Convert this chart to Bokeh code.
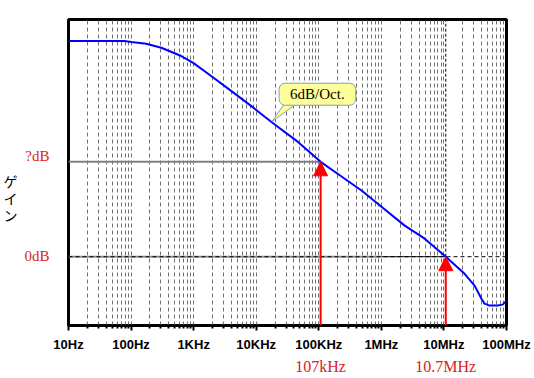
from bokeh.plotting import figure
from bokeh.models import Range1d, FixedTicker, Label, Arrow, NormalHead, LinearAxis, LogAxis
from bokeh.embed import file_html
from bokeh.resources import INLINE

# ---- data ----
freq_hz = [10, 78, 101, 175, 304, 634, 985, 1905, 3972, 8280, 13840, 20000, 46500,
           107000, 234000, 487000, 877000, 2.36e6, 4.93e6, 10.7e6, 21.4e6, 30.9e6,
           39.8e6, 44.6e6, 53.7e6, 72e6, 87e6, 100e6]
gain_db = [90.9, 90.9, 90.5, 89.8, 88.1, 84.6, 81.7, 76.2, 69.9, 63.6, 58.9, 55.6, 48.4,
           40.0, 33.7, 27.8, 22.3, 13.1, 7.6, 0.0, -7.2, -12.2,
           -17.7, -19.8, -20.6, -20.6, -20.2, -18.5]
tick_values = [10, 100, 1000, 1e4, 1e5, 1e6, 1e7, 1e8]
tick_labels = ["10Hz", "100Hz", "1KHz", "10KHz", "100KHz", "1MHz", "10MHz", "100MHz"]
minor_values = [m * d for d in [10, 100, 1000, 1e4, 1e5, 1e6, 1e7] for m in range(2, 10)]
marker_freqs = [107e3, 10.7e6]
marker_labels = ["107kHz", "10.7MHz"]
marker_gains = [40.0, 0.0]
level_labels = ["?dB", "0dB"]
y_title = "\u3000\n\u3000\n\u3000\nゲ\nイ\nン"
slope_text = "6dB/Oct."

Y0, Y1 = -29, 100
X0, X1 = 10, 1e8
RED = "#ff0000"
TXT_RED = "#d81e1e"

p = figure(width=534, height=378, x_axis_type="log", output_backend="svg",
           toolbar_location=None, x_range=Range1d(X0, X1), y_range=Range1d(Y0, Y1),
           y_axis_location=None, min_border_left=67, min_border_right=28,
           min_border_top=19, min_border_bottom=53)
p.background_fill_color = "white"
p.border_fill_color = "white"
p.outline_line_color = "black"
p.outline_line_width = 3

ticker = FixedTicker(ticks=tick_values, minor_ticks=minor_values)
p.xaxis.ticker = ticker
p.xgrid.ticker = ticker
p.xaxis.major_label_overrides = {float(v): t for v, t in zip(tick_values, tick_labels)}
p.xaxis.major_label_text_font = "Liberation Sans"
p.xaxis.major_label_text_font_style = "bold"
p.xaxis.major_label_text_font_size = "13px"
p.xaxis.major_label_text_color = "black"
p.xaxis.major_label_standoff = 6
p.xaxis.axis_line_color = "black"
p.xaxis.axis_line_width = 2
p.xaxis.major_tick_in = 0
p.xaxis.major_tick_out = 5
p.xaxis.minor_tick_in = 0
p.xaxis.minor_tick_out = 3
p.xaxis.major_tick_line_width = 2
p.xaxis.minor_tick_line_width = 2
p.xaxis.major_tick_line_color = "black"
p.xaxis.minor_tick_line_color = "black"

# second bottom axis carrying the red frequency markers
mark_axis = LogAxis(ticker=FixedTicker(ticks=marker_freqs, minor_ticks=[]),
                    major_label_overrides={float(v): t for v, t in zip(marker_freqs, marker_labels)},
                    axis_line_color=None, major_tick_line_color=None, minor_tick_line_color=None,
                    major_tick_in=0, major_tick_out=0, minor_tick_in=0, minor_tick_out=0,
                    major_label_standoff=3, major_label_text_font="Liberation Serif",
                    major_label_text_font_size="16px", major_label_text_color=TXT_RED)
p.add_layout(mark_axis, "below")

# left axis carrying the level labels and the title
level_ticks = [marker_gains[0] + 2.6, marker_gains[1] + 0.4]
left_axis = LinearAxis(ticker=FixedTicker(ticks=level_ticks, minor_ticks=[]),
                       major_label_overrides={float(v): t for v, t in zip(level_ticks, level_labels)},
                       axis_line_color=None, major_tick_line_color=None, minor_tick_line_color=None,
                       major_tick_in=0, major_tick_out=0, minor_tick_in=0, minor_tick_out=0,
                       major_label_standoff=19, major_label_text_font="Liberation Serif",
                       major_label_text_font_size="15px", major_label_text_color=TXT_RED,
                       axis_label=y_title, axis_label_orientation="horizontal",
                       axis_label_standoff=4, axis_label_text_font="Noto Sans CJK JP",
                       axis_label_text_font_size="14px", axis_label_text_font_style="normal",
                       axis_label_text_color="black", axis_label_text_line_height=0.85)
p.add_layout(left_axis, "left")

p.xgrid.grid_line_color = "#707070"
p.xgrid.grid_line_dash = "4 3"
p.xgrid.grid_line_width = 1
p.xgrid.minor_grid_line_color = "#707070"
p.xgrid.minor_grid_line_dash = "4 3"
p.xgrid.minor_grid_line_width = 1
p.ygrid.grid_line_color = None

# reference level lines
p.segment(x0=X0, y0=marker_gains[0], x1=marker_freqs[0], y1=marker_gains[0],
          line_color="#808080", line_width=2)
p.segment(x0=X0, y0=marker_gains[1], x1=1e6, y1=marker_gains[1],
          line_color="#909090", line_width=2)
p.segment(x0=X0, y0=marker_gains[1], x1=X1, y1=marker_gains[1],
          line_color="black", line_width=1, line_dash="4 3")
p.segment(x0=1e6, y0=marker_gains[1], x1=marker_freqs[1], y1=marker_gains[1],
          line_color="black", line_width=1)
p.segment(x0=marker_freqs[1], y0=marker_gains[1], x1=marker_freqs[1], y1=Y1,
          line_color="black", line_width=1, line_dash="3 2")

# gain curve
p.line(freq_hz, gain_db, line_color="#0000ff", line_width=2)

# arrows
for f, g in zip(marker_freqs, marker_gains):
    p.add_layout(Arrow(end=NormalHead(size=14, fill_color=RED, line_color=RED),
                       x_start=f, y_start=Y0, x_end=f, y_end=g,
                       line_color=RED, line_width=2))

# callout
p.patch(x=[30000, 50000, 17900], y=[65.5, 65.5, 57.0], fill_color="#ffff99",
        line_color="#7f9fbf", line_width=1)
p.add_layout(Label(x=0.95e5, y=68.5, text=slope_text, text_align="center",
                   text_baseline="middle", text_font="Liberation Serif",
                   text_font_size="15px", text_color="black",
                   background_fill_color="#ffff99", border_line_color="#7f9fbf",
                   border_line_width=1, padding=(11, 3), border_radius=6))

open("out.html", "w").write(file_html(p, INLINE))
